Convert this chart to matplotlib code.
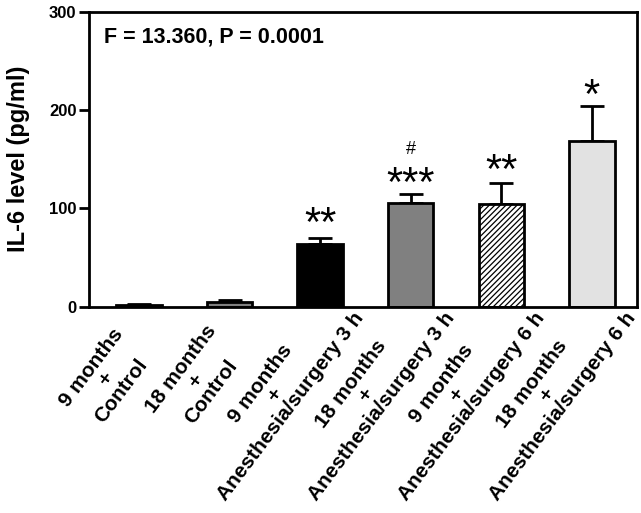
import matplotlib
matplotlib.use("Agg")
import matplotlib.pyplot as plt
import numpy as np
from matplotlib.transforms import ScaledTranslation

plt.rcParams['font.family'] = ['Liberation Sans', 'DejaVu Sans']
plt.rcParams['font.weight'] = 'bold'
plt.rcParams['hatch.linewidth'] = 0.9

# data
groups = ["9 months\n+\nControl",
          "18 months\n+\nControl",
          "9 months\n+\nAnesthesia/surgery 3 h",
          "18 months\n+\nAnesthesia/surgery 3 h",
          "9 months\n+\nAnesthesia/surgery 6 h",
          "18 months\n+\nAnesthesia/surgery 6 h"]
means = [2, 5, 64, 106, 105, 169]
sems = [1, 2, 6, 9, 21, 35]
stars = ["", "", "**", "***", "**", "*"]
star_y = [0, 0, 93, 134, 147, 223]
colors = ["black", "#808080", "black", "#808080", "white", "#e2e2e2"]
hatches = [None, None, None, None, "//////", None]

fig = plt.figure(figsize=(6.41, 5.13), dpi=100)
ax = fig.add_axes([0.139, 0.402, 0.855, 0.575])

x = list(range(len(means)))
for i in x:
    ax.bar(i, means[i], width=0.5, color=colors[i], edgecolor="black",
           linewidth=2, hatch=hatches[i], zorder=2)
ax.errorbar(x, means, yerr=[[0] * len(sems), sems], fmt="none",
            ecolor="black", elinewidth=2, capsize=8.5, capthick=2, zorder=1)

# asterisk glyph sits high in the font, so shift it down a bit
for i in x:
    if stars[i]:
        ax.text(i, star_y[i] - 10, stars[i], ha="center", va="center",
                fontsize=30, fontweight="normal")
ax.text(3, 160, "#", ha="center", va="center", fontsize=13, fontweight="normal")

ax.text(0.027, 0.915, "F = 13.360, P = 0.0001", transform=ax.transAxes,
        fontsize=15.5, fontweight="bold", va="center", ha="left")

ax.set_xlim(-0.55, 5.5)
ax.set_ylim(0, 300)
ax.set_yticks([0, 100, 200, 300])
ax.set_ylabel("IL-6 level (pg/ml)", fontsize=17, fontweight="bold", labelpad=14)
ax.set_xticks(x)
ax.set_xticklabels([])
ax.tick_params(axis="x", length=0)
ax.tick_params(axis="y", length=7, width=2, labelsize=12, pad=2)
for s in ax.spines.values():
    s.set_linewidth(2)

# rotated group labels, placed by hand (longer labels sit further right)
rot = 53
a = np.deg2rad(rot)
ux, uy = np.cos(a), np.sin(a)
nx, ny = np.sin(a), -np.cos(a)
fig.canvas.draw()
r = fig.canvas.get_renderer()
for i, lab in enumerate(groups):
    t = ax.text(i, 0, lab, fontsize=15, fontweight="bold", ha="right", va="top",
                multialignment="center", linespacing=1.0, clip_on=False)
    w = t.get_window_extent(r).width
    s_u = -64 + 0.355 * w
    s_n = -11
    dx = s_u * ux + s_n * nx
    dy = s_u * uy + s_n * ny
    t.set_transform(ax.transData + ScaledTranslation(dx / 100, dy / 100, fig.dpi_scale_trans))
    t.set_rotation(rot)
    t.set_rotation_mode("anchor")

fig.savefig("out.png", dpi=100)
